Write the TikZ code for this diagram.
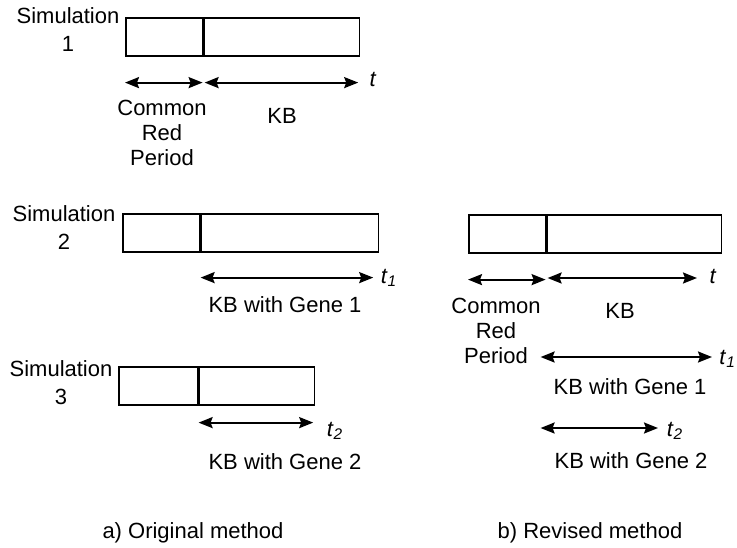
\documentclass[tikz,border=0pt]{standalone}
\usepackage{fontspec}
\setmainfont{Liberation Sans}
\usetikzlibrary{arrows.meta}

\begin{document}
\begin{tikzpicture}[x=0.5pt,y=-0.5pt,
  seg/.style={draw=black,line width=0.8pt,minimum height=19pt,inner sep=0pt,anchor=north west},
  dim/.style={{Stealth[length=7pt,width=5.5pt,inset=1pt]}-{Stealth[length=7pt,width=5.5pt,inset=1pt]},line width=1pt},
  lbl/.style={font=\fontsize{11}{12.5}\selectfont,align=center,inner sep=0pt},
  simlbl/.style={font=\fontsize{11}{14}\selectfont,align=center,inner sep=0pt}]
\useasboundingbox (0,0) rectangle (737,547);
% a) original method
\node[simlbl] (sim1) at (68,30) {Simulation\\1};
\node[seg,minimum width=38.5pt] (c1) at (125,17) {}; \node[seg,minimum width=77.5pt] (k1) at (c1.north east) {};
\draw[dim,shorten >=0.5pt] ([yshift=-13pt]c1.south west) -- ([yshift=-13pt]c1.south east);
\draw[dim,shorten <=0.5pt,shorten >=1pt] ([yshift=-13pt]k1.south west) -- ([yshift=-13pt]k1.south east);
\node[lbl] (tA) at (373,79) {\textit{t}};
\node[lbl] (crpA) at (162,133) {Common\\Red\\Period};
\node[lbl] (kbA) at (282,116) {KB};

\node[simlbl] (sim2) at (64,228) {Simulation\\2};
\node[seg,minimum width=38.5pt] (c2) at (122,213) {}; \node[seg,minimum width=88.5pt] (k2) at (c2.north east) {};
\draw[dim] ([yshift=-12.5pt]k2.south west) -- ([xshift=-3pt,yshift=-12.5pt]k2.south east);
\node[lbl] (t1A) at (389,278) {\textit{t}\textsubscript{\textit{1}}};
\node[lbl] (g1A) at (285,305) {KB with Gene 1};

\node[simlbl] (sim3) at (61,383) {Simulation\\3};
\node[seg,minimum width=39.5pt] (c3) at (118,366) {}; \node[seg,minimum width=57.5pt] (k3) at (c3.north east) {};
\draw[dim] ([yshift=-8.5pt]k3.south west) -- ([xshift=-1pt,yshift=-8.5pt]k3.south east);
\node[lbl] (t2A) at (335,431) {\textit{t}\textsubscript{\textit{2}}};
\node[lbl] (g2A) at (285,462) {KB with Gene 2};

\node[lbl] (capA) at (193,533) {a) Original method};
% b) revised method
\node[seg,minimum width=38.5pt] (c4) at (468,214) {}; \node[seg,minimum width=87pt] (k4) at (c4.north east) {};
\draw[dim,shorten >=0.5pt] ([yshift=-13pt]c4.south west) -- ([yshift=-13pt]c4.south east);
\coordinate (e0) at (697,278);
\draw[dim,shorten <=0.5pt] (k4.south west |- e0) -- (e0);
\node[lbl] (tB) at (713,276) {\textit{t}};
\node[lbl] (crpB) at (496,331) {Common\\Red\\Period};
\node[lbl] (kbB) at (620,311) {KB};
\coordinate (e1) at (712,357);
\draw[dim] ([xshift=-3pt]k4.south west |- e1) -- (e1);
\node[lbl,anchor=west] (t1B) at (719,359) {\textit{t}\textsubscript{\textit{1}}};
\node[lbl] (g1B) at (630,387) {KB with Gene 1};
\coordinate (e2) at (658,428);
\draw[dim] ([xshift=-3pt]k4.south west |- e2) -- (e2);
\node[lbl] (t2B) at (675,431) {\textit{t}\textsubscript{\textit{2}}};
\node[lbl] (g2B) at (631,461) {KB with Gene 2};

\node[lbl] (capB) at (590,533) {b) Revised method};
\end{tikzpicture}
\end{document}
